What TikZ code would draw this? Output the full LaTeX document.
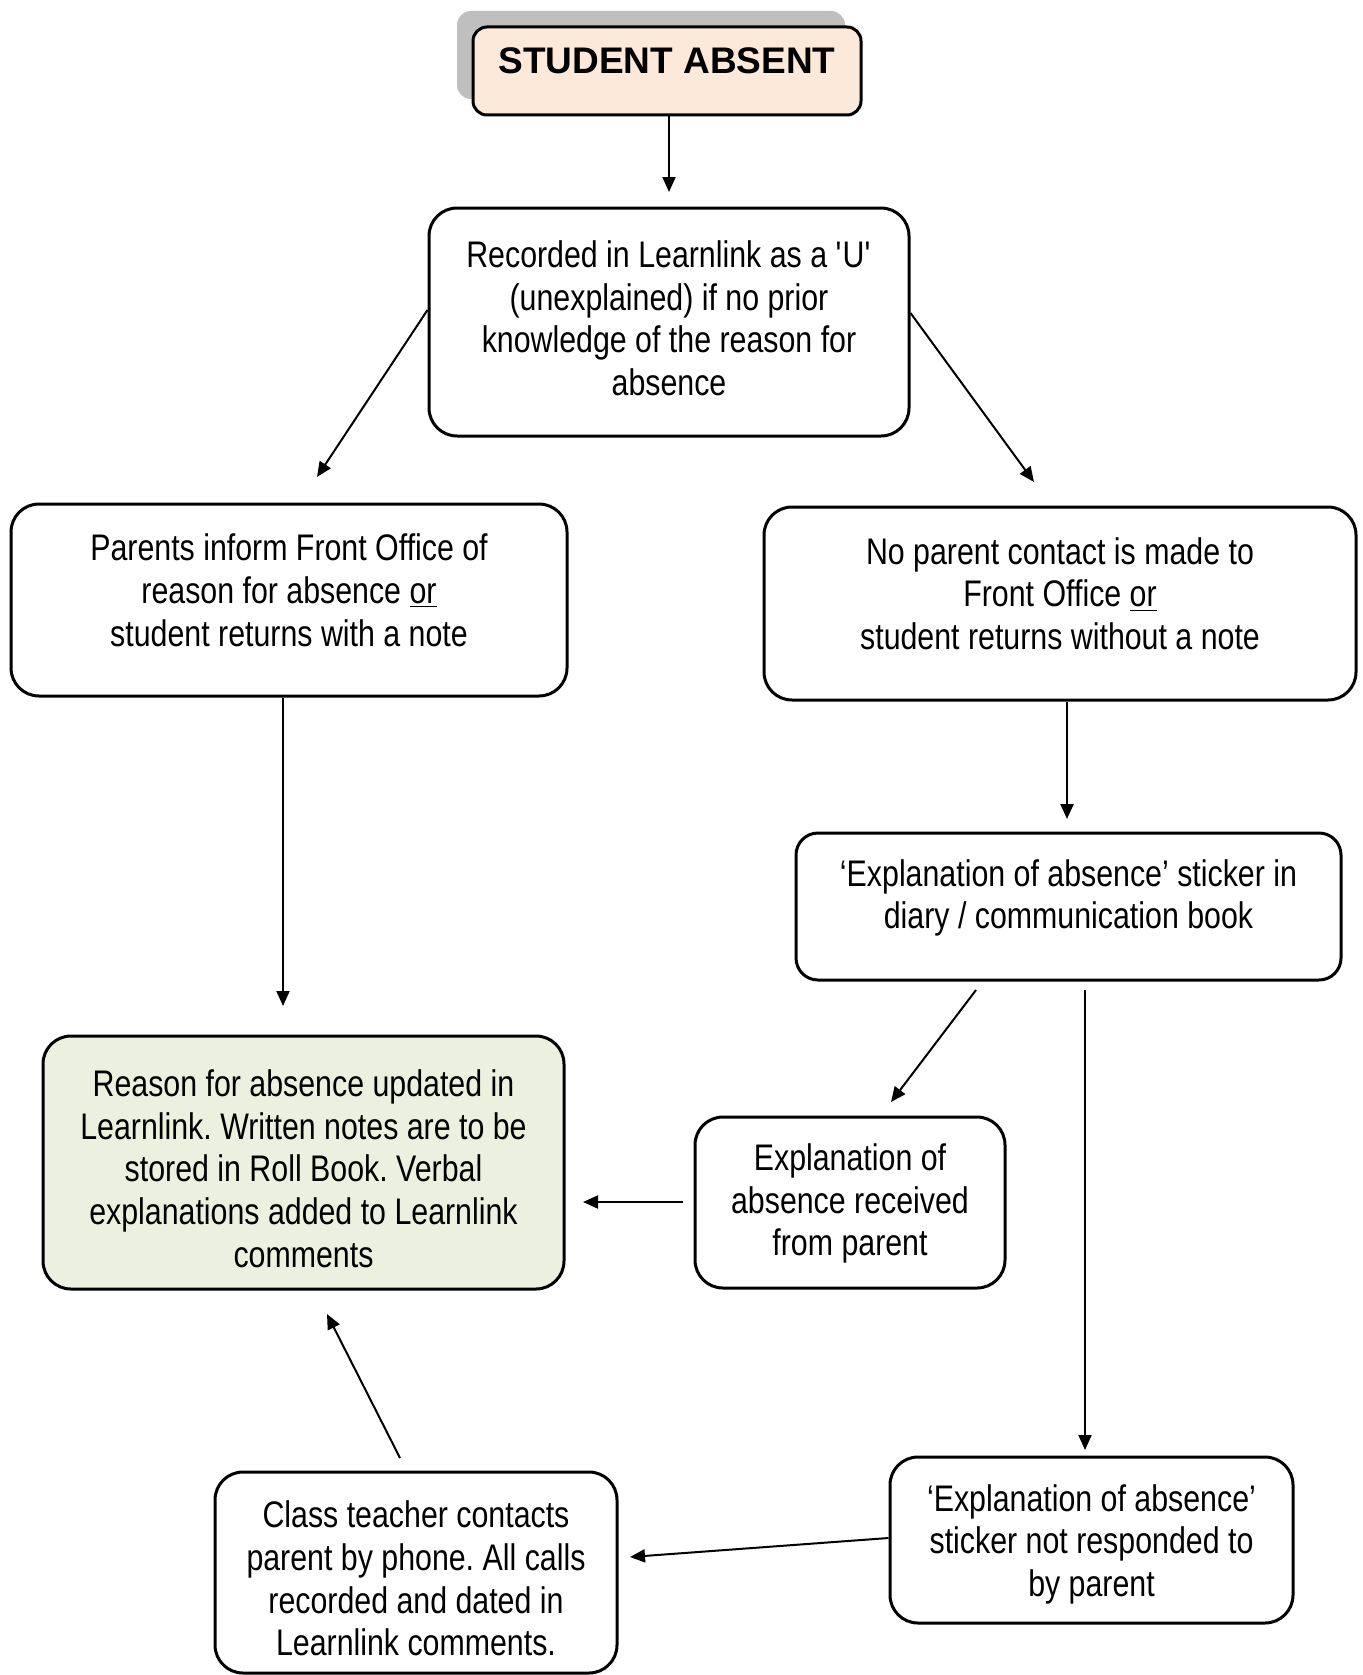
\documentclass[tikz,border=0pt]{standalone}
\usepackage{fontspec}
\setmainfont{Liberation Sans}[FakeStretch=0.82]
\newfontfamily\titlefont{Liberation Sans}
\usetikzlibrary{arrows.meta}
\definecolor{peach}{HTML}{FCE9DA}
\definecolor{shadowgray}{HTML}{BFBFBF}
\definecolor{palegreen}{HTML}{EBF1DE}
\newcommand\liftlines[2]{\raisebox{#1}[\height][\depth]{\begin{tabular}{@{}c@{}}#2\end{tabular}}}
\tikzset{
  flowbox/.style={draw=black, line width=1.5pt, rounded corners=14pt,
    inner sep=0pt, font=\frenchspacing\fontsize{18.5}{21.4}\selectfont},
  arr/.style={line width=1pt, -{Triangle[length=7.5pt,width=6.5pt]}}
}
\begin{document}
\begin{tikzpicture}[x=0.5pt,y=-0.5pt]
\useasboundingbox (0,0) rectangle (1362,1675);
% title with shadow
\fill[shadowgray, rounded corners=7pt] (457,11) rectangle (845,99);
\node[flowbox, rounded corners=7pt, fill=peach, minimum width=194pt, minimum height=44pt,
  text depth=10pt, font=\titlefont\bfseries\fontsize{18.5}{21.4}\selectfont] (title) at (667,71) {STUDENT ABSENT};
% boxes
\node[flowbox, minimum width=240pt, minimum height=114pt] (rec) at (669,322)
  {\liftlines{-0.5pt}{Recorded in Learnlink as a \textquotesingle U\textquotesingle\\(unexplained) if no prior\\knowledge of the reason for\\absence}};
\node[flowbox, minimum width=278pt, minimum height=96pt] (pf) at (289,600)
  {\liftlines{2.6pt}{Parents inform Front Office of\\reason for absence \underline{or}\\student returns with a note}};
\node[flowbox, minimum width=296pt, minimum height=96.5pt] (np) at (1060,603.5)
  {\liftlines{2.6pt}{No parent contact is made to\\Front Office \underline{or}\\student returns without a note}};
\node[flowbox, rounded corners=11pt, minimum width=272.5pt, minimum height=73.5pt] (st) at (1068.5,906.5)
  {\liftlines{3.8pt}{‘Explanation of absence’ sticker in\\diary / communication book}};
\node[flowbox, fill=palegreen, minimum width=260.5pt, minimum height=126.5pt] (gr) at (303.5,1162.5)
  {\liftlines{-5.4pt}{Reason for absence updated in\\Learnlink. Written notes are to be\\stored in Roll Book. Verbal\\explanations added to Learnlink\\comments}};
\node[flowbox, minimum width=155pt, minimum height=85.5pt] (er) at (850,1202.5)
  {\liftlines{-1pt}{Explanation of\\absence received\\from parent}};
\node[flowbox, minimum width=201.5pt, minimum height=83pt] (nr) at (1091.5,1540)
  {\liftlines{-2.7pt}{‘Explanation of absence’\\sticker not responded to\\by parent}};
\node[flowbox, minimum width=201pt, minimum height=100.5pt] (ct) at (416,1572.5)
  {\liftlines{-5.3pt}{Class teacher contacts\\parent by phone. All calls\\recorded and dated in\\Learnlink comments.}};
% free ends of connectors
\coordinate (e1) at (669,192);
\coordinate (e2) at (317,477);
\coordinate (e3) at (1034,482);
\coordinate (e4) at (283,1006);
\coordinate (e5) at (1067,819);
\coordinate (s6) at (976,990);
\coordinate (e6) at (891,1102);
\coordinate (s7) at (1085,990);
\coordinate (e7) at (1085,1450);
\coordinate (s8) at (683,1202);
\coordinate (e8) at (583,1202);
\coordinate (e9) at (630,1557);
\coordinate (s10) at (400,1458);
\coordinate (e10) at (327,1314);
% connectors
\draw[arr] (title.south -| e1) -- (e1);
\draw[arr] ([yshift=6pt]rec.west) -- (e2);
\draw[arr] ([yshift=4.5pt]rec.east) -- (e3);
\draw[arr] (pf.south -| e4) -- (e4);
\draw[arr] (np.south -| e5) -- (e5);
\draw[arr] (s6) -- (e6);
\draw[arr] (s7) -- (e7);
\draw[arr] (s8) -- (e8);
\draw[arr] ([yshift=1pt]nr.west) -- (e9);
\draw[arr] (s10) -- (e10);
\end{tikzpicture}
\end{document}
